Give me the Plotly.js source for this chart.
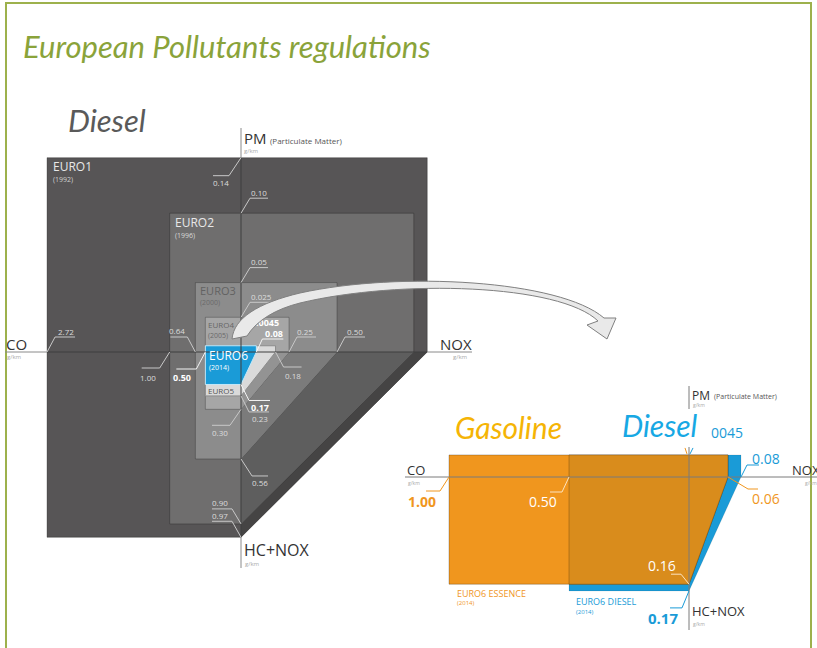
<!DOCTYPE html>
<html>
<head>
<meta charset="utf-8">
<script src="https://cdn.plot.ly/plotly-3.0.1.min.js"></script>
<style>
html, body { margin: 0; padding: 0; background: #fff; overflow: hidden; }
#chart { width: 817px; height: 648px; }
</style>
</head>
<body>
<div id="chart"></div>
<script>
// Diesel standards, g/km
var standards = ['EURO1', 'EURO2', 'EURO3', 'EURO4', 'EURO5', 'EURO6'];
var years = ['(1992)', '(1996)', '(2000)', '(2005)', '', '(2014)'];
var coValues = [2.72, 1.00, 0.64, 0.50, 0.50, 0.50];
var pmValues = [0.14, 0.10, 0.05, 0.025, 0.0045, 0.0045];
var noxValues = [null, null, 0.50, 0.25, 0.18, 0.08];
var hcNoxValues = [0.97, 0.90, 0.56, 0.30, 0.23, 0.17];

// Euro 6, gasoline vs diesel, g/km
var euro6Names = ['EURO6 ESSENCE', 'EURO6 DIESEL'];
var euro6Years = ['(2014)', '(2014)'];
var euro6Co = [1.00, 0.50];
var euro6Pm = [0.0045, 0.0045];
var euro6Nox = [0.06, 0.08];
var euro6HcNox = [0.16, 0.17];

// scales of the two diagrams (origin + pixels per g/km on each arm)
var leftScale = {ox: 241, oy: 352, co: 71.3, pm: 1388, nox: 192, hc: 191};
var rightScale = {ox: 689, oy: 477, co: 240, pm: 4900, nox: 650, hc: 670};

var boxColors = ['#575556', '#6f6e6e', '#8c8c8c', '#a6a6a6', '#dadada', '#1a9bd7'];
var sideColors = ['#454444', '#5e5e5e', '#7b7b7b', '#939393', null, null];
var orange = '#f0961e', blue = '#1a9bd7';

var traces = [], ann = [];

function closed(pts) {
  return {x: pts.map(function (p) { return p[0]; }).concat(pts[0][0]),
          y: pts.map(function (p) { return p[1]; }).concat(pts[0][1])};
}
function addPoly(pts, fill, lineColor, lw) {
  var c = closed(pts);
  traces.push({type: 'scatter', mode: 'lines', x: c.x, y: c.y, fill: 'toself', fillcolor: fill,
    line: {color: lineColor || fill, width: lw == null ? 0.6 : lw}, hoverinfo: 'skip'});
}
function addLine(pts, color, lw) {
  traces.push({type: 'scatter', mode: 'lines', x: pts.map(function (p) { return p[0]; }),
    y: pts.map(function (p) { return p[1]; }), line: {color: color, width: lw || 1}, hoverinfo: 'skip'});
}
function addText(x, y, str, size, color, anchor, o) {
  o = o || {};
  ann.push({xref: 'x', yref: 'y', x: x, y: y, text: str, showarrow: false, xanchor: anchor || 'left',
    yanchor: 'middle', borderpad: 0,
    font: {family: o.family || 'Open Sans, sans-serif', size: size, color: color,
           weight: o.weight || 'normal', style: o.style || 'normal'}});
}
function fmt(v) {
  var d = (String(v).split('.')[1] || '').length;
  return v.toFixed(Math.max(2, d));
}
function frame(sc, co, pm, nox, hc) {
  var L = sc.ox - co * sc.co, T = sc.oy - pm * sc.pm, R = sc.ox + nox * sc.nox, B = sc.oy + hc * sc.hc;
  return {L: L, T: T, R: R, B: B,
    pts: [[L, T], [R, T], [R, sc.oy], [sc.ox, B], [L, B]],
    tri: [[sc.ox, sc.oy], [R, sc.oy], [sc.ox, B]]};
}
// p = [dx, dy, hlen, tx, ty] relative to the anchor point
function leader(ax, ay, p, str, size, color, lineColor, o) {
  if (!p) return;
  var mx = ax + p[0], my = ay + p[1];
  addLine([[ax, ay], [mx, my], [mx + p[2], my]], lineColor || color, 1);
  if (str) addText(ax + p[3], ay + p[4], str, size, color, 'center', o);
}

// ---------- left diagram: diesel EURO1..EURO6 ----------
var frames = standards.map(function (s, i) {
  var nox = noxValues[i] != null ? noxValues[i] : hcNoxValues[i];
  return frame(leftScale, coValues[i], pmValues[i], nox, hcNoxValues[i]);
});
var outlines = ['rgba(0,0,0,0.3)', 'rgba(0,0,0,0.25)', 'rgba(0,0,0,0.25)', 'rgba(0,0,0,0.25)', '#8c8c8c', '#c4e8f8'];
frames.forEach(function (f, i) {
  addPoly(f.pts, boxColors[i], outlines[i], 1);
  if (sideColors[i]) addPoly(f.tri, sideColors[i], sideColors[i], 0);
});

// axes of left diagram
var f1 = frames[0], ls = leftScale;
addLine([[5, ls.oy], [f1.L, ls.oy]], '#8a8a8a', 1);
addLine([[f1.L, ls.oy], [f1.R, ls.oy]], '#3e3e3e', 1);
addLine([[f1.R, ls.oy], [472, ls.oy]], '#8a8a8a', 1);
addLine([[ls.ox, 128], [ls.ox, f1.T]], '#8a8a8a', 1);
addLine([[ls.ox, f1.T], [ls.ox, f1.B]], '#3e3e3e', 1);
addLine([[ls.ox, f1.B], [ls.ox, 568]], '#8a8a8a', 1);

// box names: [dx, dy, name size, year size, year dy, name colour, year colour]
var namePlace = [[5, 9, 12, 7, 13, '#e8e8e8', '#cfcfcf'], [4, 9, 12, 7, 13, '#e8e8e8', '#d8d8d8'],
                 [4, 8, 11, 7, 12, '#626262', '#6a6a6a'], [2, 7, 8, 7, 11, '#666666', '#6a6a6a'],
                 null, [3, 10, 12, 7, 12, '#ffffff', '#ffffff']];
standards.forEach(function (s, i) {
  var p = namePlace[i], f = frames[i];
  if (!p) return;
  addText(f.L + p[0], f.T + p[1], s, p[2], p[5], 'left');
  addText(f.L + p[0], f.T + p[1] + p[4], years[i], p[3], p[6], 'left');
});
addText(frames[4].L + 2, frames[4].B - 5, standards[4], 8, '#555', 'left');

// value leaders
var pmPlace = [[-12, 18, -16, -20, 25], [9, -15, 18, 18, -21], [9, -15, 18, 18, -21], [9, -15, 22, 20, -21], null, null];
var coPlace = [[8, -15, 20, 19, -21], [-10, 16, -18, -22, 25], [-8, -15, -17, -18, -22], null, null, [-9, 17, -20, -23, 25]];
var noxPlace = [null, null, [8, -15, 20, 18, -21], [8, -15, 19, 16, -21], [8, 15, 18, 17, 23], [6, -13, 21, 18, -19]];
var hcPlace = [[-9, -16, -20, -21, -22], [-9, -15, -20, -21, -21], [11, 17, 16, 19, 24], [-11, 16, -18, -21, 23], [8, 16, 20, 19, 23], [8, 16, 21, 19, 23]];
var grey = '#dcdcdc', greyLine = '#c8c8c8';
standards.forEach(function (s, i) {
  var f = frames[i], hi = i === 5;
  var col = hi ? '#ffffff' : grey, lc = hi ? '#f4f4f4' : greyLine;
  var o = hi ? {weight: 'bold'} : {};
  var sz = hi ? 9 : 8;
  leader(ls.ox, f.T, pmPlace[i], fmt(pmValues[i]), sz, col, lc, o);
  leader(f.L, ls.oy, coPlace[i], fmt(coValues[i]), sz, col, lc, o);
  if (noxValues[i] != null) leader(f.R, ls.oy, noxPlace[i], fmt(noxValues[i]), sz, col, lc, o);
  leader(ls.ox, f.B, hcPlace[i], fmt(hcNoxValues[i]), sz, col, lc, o);
});
// PM of EURO5/6 sits under the arrow, so it is a trace, not an annotation
traces.push({type: 'scatter', mode: 'text', x: [ls.ox + 24], y: [frames[5].T - 22], text: [fmt(pmValues[5])],
  textposition: 'middle center', hoverinfo: 'skip',
  textfont: {family: 'Open Sans, sans-serif', size: 9, color: '#ffffff', weight: 'bold'}});

// axis names, left
addText(243, 138, 'PM', 15, '#333');
addText(269, 140, '(Particulate Matter)', 8, '#555');
addText(243, 151, 'g/km', 6, '#aaa');
addText(5, 344, 'CO', 15, '#333');
addText(6, 357, 'g/km', 6, '#aaa');
addText(439, 344, 'NOX', 15, '#333');
addText(452, 357, 'g/km', 6, '#aaa');
addText(243, 550, 'HC+NOX', 16, '#333');
addText(244, 564, 'g/km', 6, '#aaa');

// ---------- right diagram: Euro6 gasoline vs diesel ----------
var rs = rightScale;
var g = frame(rs, euro6Co[0], euro6Pm[0], euro6Nox[0], euro6HcNox[0]);
var d = frame(rs, euro6Co[1], euro6Pm[1], euro6Nox[1], euro6HcNox[1]);
addPoly(d.pts, blue, 'rgba(0,0,0,0.15)', 0.6);
addPoly(g.pts, orange, 'rgba(0,0,0,0.3)', 0.8);
var oL = Math.max(g.L, d.L), oT = Math.max(g.T, d.T), oR = Math.min(g.R, d.R), oB = Math.min(g.B, d.B);
addPoly([[oL, oT], [oR, oT], [oR, rs.oy], [rs.ox, oB], [oL, oB]], '#d98c1c', 'rgba(90,60,10,0.45)', 0.8);

addLine([[405, rs.oy], [817, rs.oy]], '#7a7a7a', 1);
addLine([[rs.ox, 386], [rs.ox, 409]], '#7a7a7a', 1);
addLine([[rs.ox, 447], [rs.ox, 630]], '#7a7a7a', 1);

var r6co = [[-9, 14, -14, -27, 24], [-7, 15, -12, -26, 24]];
var r6nox = [[20, 12, 10, 38, 21], [6, -12, 12, 25, -19]];
var r6hc = [[-8, -10, -10, -27, -19], [-7, 17, -12, -26, 27]];
leader(g.L, rs.oy, r6co[0], fmt(euro6Co[0]), 14, orange, orange, {weight: 'bold'});
leader(d.L, rs.oy, r6co[1], fmt(euro6Co[1]), 14, '#ffffff', '#fbe3c0');
leader(g.R, rs.oy, r6nox[0], fmt(euro6Nox[0]), 14, orange, orange);
leader(d.R, rs.oy, r6nox[1], fmt(euro6Nox[1]), 14, blue, blue);
leader(rs.ox, g.B, r6hc[0], fmt(euro6HcNox[0]), 14, '#ffffff', '#fbe3c0');
leader(rs.ox, d.B, r6hc[1], fmt(euro6HcNox[1]), 15, blue, blue, {weight: 'bold'});
addLine([[rs.ox - 2, g.T - 1], [rs.ox - 4, g.T - 7]], orange, 1);
addLine([[rs.ox + 1, d.T - 1], [rs.ox + 4, d.T - 7]], blue, 1);
addText(rs.ox + 38, d.T - 22, fmt(euro6Pm[1]).replace('0.', ''), 14, blue, 'center');

addText(g.L + 7, g.B + 9, euro6Names[0], 9, orange);
addText(g.L + 7, g.B + 19, euro6Years[0], 6, orange);
addText(d.L + 6, d.B + 11, euro6Names[1], 9, blue);
addText(d.L + 6, d.B + 21, euro6Years[1], 6, blue);

addText(691, 395, 'PM', 12, '#333');
addText(713, 396, '(Particulate Matter)', 7, '#555');
addText(692, 405, 'g/km', 5, '#aaa');
addText(406, 470, 'CO', 13, '#333');
addText(407, 483, 'g/km', 5, '#aaa');
addText(791, 470, 'NOX', 13, '#333');
addText(804, 483, 'g/km', 5, '#aaa');
addText(691, 611, 'HC+NOX', 13, '#333');
addText(692, 624, 'g/km', 5, '#aaa');

addText(508, 427, 'Gasoline', 30, '#f5b405', 'center', {family: 'Lato, sans-serif', style: 'italic'});
addText(660, 425, 'Diesel', 30, '#17a8e4', 'center', {family: 'Lato, sans-serif', style: 'italic'});

// titles
addText(22, 46, 'European Pollutants regulations', 31, '#8aa33a', 'left', {family: 'Lato, sans-serif', style: 'italic'});
addText(67, 120, 'Diesel', 31, '#5a5a5a', 'left', {family: 'Lato, sans-serif', style: 'italic'});

var shapes = [
  {type: 'rect', xref: 'x', yref: 'y', x0: 6, x1: 811, y0: 3, y1: 700, line: {color: '#9db14c', width: 2}, layer: 'below'},
  {type: 'path', xref: 'x', yref: 'y', layer: 'above',
   path: 'M 232,339 C 234,318 258,303 300,293 C 400,271 560,280 604,318 L 616,318 L 607,339 L 587,325 L 598,321 C 560,284 400,279 300,303 C 276,309 257,320 247,336 Z',
   fillcolor: '#e9e9e9', line: {color: '#808080', width: 1}}
];

var layout = {
  width: 817, height: 648, margin: {l: 0, r: 0, t: 0, b: 0},
  paper_bgcolor: '#ffffff', plot_bgcolor: '#ffffff', showlegend: false,
  xaxis: {range: [0, 817], visible: false, fixedrange: true},
  yaxis: {range: [648, 0], visible: false, fixedrange: true},
  shapes: shapes, annotations: ann
};

Plotly.newPlot('chart', traces, layout, {displayModeBar: false, staticPlot: true});
</script>
</body>
</html>
